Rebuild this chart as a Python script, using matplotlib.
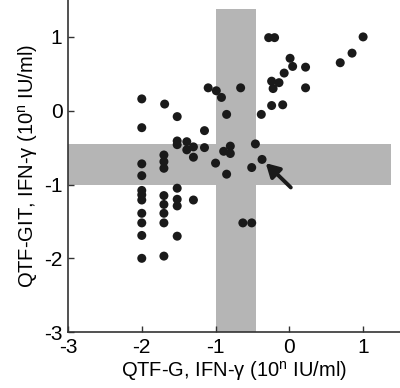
import matplotlib
matplotlib.use("Agg")
import matplotlib.pyplot as plt
from matplotlib.patches import Rectangle

plt.rcParams['font.family'] = ['Liberation Sans', 'DejaVu Sans']
plt.rcParams['mathtext.fontset'] = 'custom'
plt.rcParams['mathtext.rm'] = 'Liberation Sans'
plt.rcParams['mathtext.it'] = 'Liberation Sans'
plt.rcParams['axes.unicode_minus'] = False

# log10 IFN-gamma values
qtf_g = [-0.28, -0.20, 1.00, 0.85, 0.69, 0.01, 0.045, -0.07, 0.22, -0.24, -0.14, -0.22, 0.22,
         -0.24, -0.09, -0.38,
         -1.10, -0.99, -0.92, -0.66, -2.00, -1.69, -1.52, -2.00, -1.15, -0.85,
         -1.52, -1.52, -1.39, -1.39, -1.30, -1.30, -1.15, -0.80, -0.89, -0.80, -0.46, -0.37,
         -0.51, -1.00, -0.85, -1.70, -1.70, -1.70, -2.00, -2.00,
         -2.00, -2.00, -2.00, -2.00, -2.00, -2.00, -2.00,
         -1.70, -1.70, -1.70, -1.70, -1.70,
         -1.52, -1.52, -1.52, -1.52,
         -1.30, -0.63, -0.51]
qtf_git = [0.99, 0.99, 1.00, 0.78, 0.65, 0.71, 0.60, 0.51, 0.59, 0.40, 0.38, 0.30, 0.31,
           0.07, 0.08, -0.05,
           0.31, 0.27, 0.18, 0.31, 0.16, 0.09, -0.08, -0.23, -0.27, -0.05,
           -0.41, -0.46, -0.42, -0.53, -0.49, -0.63, -0.50, -0.48, -0.55, -0.58, -0.45, -0.66,
           -0.77, -0.71, -0.86, -0.60, -0.69, -0.78, -0.72, -0.88,
           -1.08, -1.14, -1.21, -1.39, -1.52, -1.69, -2.00,
           -1.15, -1.27, -1.39, -1.52, -1.97,
           -1.05, -1.20, -1.29, -1.70,
           -1.21, -1.52, -1.52]

grey_zone = [-1.0, -0.456]   # log10(0.1) .. log10(0.35)
band_end = 1.38
ticks = [-3, -2, -1, 0, 1]
arrow_tip = (-0.32, -0.71)
arrow_tail = (0.02, -1.04)

fig = plt.figure(figsize=(4.0, 3.88), dpi=100)
ax = fig.add_axes([0.17, 0.144, 0.83, 0.856])
ax.set_xlim(-3, 1.5)
ax.set_ylim(-3, 1.5)

grey = '#b5b5b5'
ax.add_patch(Rectangle((grey_zone[0], -3), grey_zone[1] - grey_zone[0], band_end + 3,
                       facecolor=grey, edgecolor='none', zorder=1))
ax.add_patch(Rectangle((-3, grey_zone[0]), band_end + 3, grey_zone[1] - grey_zone[0],
                       facecolor=grey, edgecolor='none', zorder=1))

ax.scatter(qtf_g, qtf_git, s=42, color='#1a1a1a', edgecolors='none', zorder=3)

ax.annotate('', xy=arrow_tip, xytext=arrow_tail,
            arrowprops=dict(arrowstyle='-|>,head_length=0.8,head_width=0.45',
                            color='#1a1a1a', lw=2.8, shrinkA=0, shrinkB=0), zorder=4)

for s in ['top', 'right']:
    ax.spines[s].set_visible(False)
for s in ['left', 'bottom']:
    ax.spines[s].set_color('#333333')
    ax.spines[s].set_linewidth(1.2)

ax.set_xticks(ticks)
ax.set_yticks(ticks)
ax.set_xticklabels([str(t) for t in ticks])
ax.set_yticklabels([str(t) for t in ticks])
ax.tick_params(direction='in', length=4, width=1, color='#333333', labelsize=15)
ax.tick_params(axis='x', pad=4)
ax.tick_params(axis='y', pad=4)

ax.set_xlabel(r'QTF-G, IFN-γ (10$^{\mathrm{n}}$ IU/ml)', fontsize=14.5, labelpad=2)
ax.set_ylabel(r'QTF-GIT, IFN-γ (10$^{\mathrm{n}}$ IU/ml)', fontsize=14.5, labelpad=3)

fig.savefig('out.png', dpi=100)
